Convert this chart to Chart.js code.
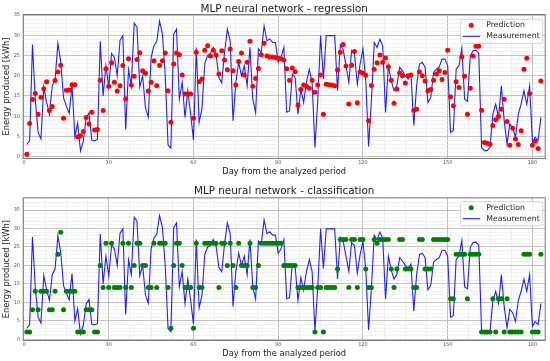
<!DOCTYPE html>
<html>
<head>
<meta charset="utf-8">
<script src="https://cdn.jsdelivr.net/npm/chart.js@4.4.1/dist/chart.umd.min.js"></script>
<style>
  html, body { margin: 0; padding: 0; background: #ffffff; }
  #wrap { position: relative; width: 550px; height: 361px; }
  canvas { position: absolute; left: 0; }
</style>
</head>
<body>
<div id="wrap">
  <canvas id="regChart" width="550" height="180" style="top:0"></canvas>
  <canvas id="clsChart" width="550" height="181" style="top:180px"></canvas>
</div>
<script>
// measured daily energy, days 1..183
var measurement = [
  3.0, 4.0, 27.7, 14.0, 6.0, 4.4, 17.2, 13.5, 10.5, 17.5,
  19.0, 28.0, 23.5, 14.5, 12.5, 10.7, 17.8, 5.0, 8.3, 1.4,
  3.8, 9.6, 10.8, 4.1, 3.9, 4.3, 28.5, 15.0, 22.5, 17.2,
  25.5, 24.5, 20.0, 28.7, 29.9, 6.7, 21.5, 17.5, 33.0, 32.0,
  17.2, 20.0, 12.0, 9.8, 24.5, 27.4, 28.5, 33.5, 30.3, 20.0,
  2.9, 2.1, 30.3, 31.5, 14.2, 18.4, 9.7, 16.3, 10.5, 4.1,
  27.0, 8.5, 11.8, 23.0, 25.0, 25.5, 27.0, 25.3, 19.5, 18.3,
  25.8, 31.5, 28.6, 8.9, 18.4, 23.3, 20.0, 22.5, 17.5, 27.0,
  14.2, 10.9, 26.6, 25.8, 32.3, 28.6, 29.1, 28.2, 28.2, 23.3,
  24.5, 27.0, 11.0, 11.3, 20.4, 19.6, 10.5, 16.7, 13.4, 18.4,
  21.6, 18.4, 2.3, 14.0, 29.9, 19.2, 29.9, 29.9, 29.9, 29.9,
  16.3, 27.6, 26.5, 22.5, 18.4, 26.2, 25.3, 17.9, 22.9, 26.6,
  18.8, 2.5, 14.0, 28.2, 27.0, 29.0, 27.4, 10.9, 22.5, 18.8,
  16.3, 17.5, 22.1, 21.2, 20.0, 19.2, 20.4, 7.7, 17.5, 22.9,
  23.3, 22.1, 13.4, 14.6, 20.8, 21.6, 22.1, 24.1, 24.1, 22.5,
  6.0, 6.4, 21.6, 22.5, 26.8, 14.2, 13.7, 24.9, 26.2, 26.3,
  25.5, 2.3, 1.5, 1.5, 2.3, 10.5, 13.0, 9.7, 17.5, 8.9,
  3.1, 8.1, 7.2, 4.8, 10.5, 13.0, 16.3, 13.0, 17.5, 3.5,
  4.8, 4.0, 9.7
];

// MLP regression output
var regPrediction = [
  0.6, 8.2, 14.1, 15.6, 10.5, 14.7, 16.8, 18.5, 11.4, 12.4,
  18.8, 20.9, 22.6, 9.5, 16.4, 16.5, 17.8, 17.8, 4.9, 5.2,
  6.2, 9.7, 8.1, 11.0, 6.6, 6.7, 18.9, 11.4, 21.7, 17.4,
  23.2, 18.4, 16.2, 17.5, 22.5, 14.3, 24.2, 17.7, 19.9, 24.0,
  25.7, 21.2, 20.6, 16.2, 18.4, 23.7, 17.5, 22.5, 23.7, 25.6,
  16.3, 8.5, 22.9, 25.6, 25.2, 20.2, 15.5, 15.5, 15.5, 9.5,
  25.8, 18.5, 19.2, 26.3, 27.4, 24.9, 26.3, 25.1, 20.4, 26.2,
  23.9, 21.5, 26.6, 21.2, 17.7, 23.5, 25.6, 20.2, 23.3, 28.5,
  17.4, 19.3, 21.8, 25.2, 28.0, 24.9, 24.6, 24.6, 24.5, 24.3,
  24.2, 23.9, 21.7, 18.9, 21.9, 21.0, 12.8, 16.6, 17.7, 17.4,
  16.9, 18.9, 15.9, 17.7, 20.2, 10.5, 17.9, 17.8, 17.7, 17.5,
  21.4, 25.8, 27.7, 22.4, 13.0, 22.6, 26.0, 13.3, 20.9, 20.6,
  20.1, 8.9, 17.6, 21.6, 23.2, 25.1, 23.3, 24.4, 22.2, 18.9,
  13.2, 16.7, 20.7, 20.0, 18.2, 20.0, 20.2, 11.5, 11.7, 21.0,
  20.0, 18.7, 16.3, 16.6, 18.9, 20.4, 21.2, 19.1, 20.8, 26.3,
  14.8, 12.6, 18.5, 17.1, 24.7, 19.9, 10.5, 16.9, 24.9, 27.3,
  27.3, 11.5, 3.5, 3.3, 3.1, 7.7, 9.1, 10.0, 11.7, 14.2,
  8.7, 2.8, 7.0, 4.4, 3.0, 6.4, 21.6, 24.3, 15.6, 2.8,
  3.8, 2.0, 18.7
];

// MLP classification output (class centres)
var clsPrediction = [
  2, 2, 8, 13, 8, 13, 13, 13, 8, 8,
  13, 23, 29, 8, 13, 13, 13, 13, 2, 2,
  2, 8, 8, 8, 2, 2, 20, 14, 26, 14,
  26, 14, 14, 14, 26, 14, 26, 14, 20, 26,
  26, 20, 20, 14, 14, 26, 14, 26, 26, 26,
  14, 3, 20, 26, 26, 20, 14, 14, 14, 3,
  26, 14, 14, 26, 26, 26, 26, 26, 14, 26,
  26, 20, 26, 20, 14, 26, 20, 20, 20, 26,
  14, 14, 20, 26, 26, 26, 26, 26, 26, 26,
  26, 20, 20, 20, 20, 20, 14, 14, 14, 14,
  14, 14, 2, 14, 14, 2, 14, 14, 14, 14,
  19, 27, 27, 27, 14, 27, 27, 14, 27, 27,
  19, 14, 14, 27, 26, 27, 27, 27, 27, 19,
  14, 19, 27, 27, 19, 19, 19, 14, 14, 27,
  27, 19, 19, 19, 27, 27, 27, 27, 27, 27,
  11, 11, 23, 23, 23, 23, 11, 23, 23, 23,
  23, 2, 2, 2, 2, 11, 2, 11, 11, 2,
  11, 2, 2, 2, 2, 2, 23, 23, 23, 2,
  2, 2, 23
];

var days = measurement.map(function(_, i) { return i + 1; });

var FONT = "'DejaVu Sans', sans-serif";

function toPoints(values) {
  return values.map(function(v, i) { return { x: days[i], y: v }; });
}

// grey frame round the plot area
var frame = {
  id: 'frame',
  beforeDatasetsDraw: function(chart) {
    var a = chart.chartArea, ctx = chart.ctx;
    ctx.save();
    ctx.strokeStyle = '#7a7a7a';
    ctx.lineWidth = 1;
    ctx.strokeRect(a.left + 0.5, a.top + 0.5, a.right - a.left - 1, a.bottom - a.top - 1);
    ctx.restore();
  }
};

// matplotlib-like legend box in the upper right corner
var legendBox = {
  id: 'legendBox',
  afterDraw: function(chart, args, opts) {
    var ctx = chart.ctx;
    var x = opts.x, y = opts.y, w = 82, h = 24, r = 2;
    ctx.save();
    ctx.beginPath();
    ctx.moveTo(x + r, y);
    ctx.lineTo(x + w - r, y);
    ctx.arcTo(x + w, y, x + w, y + r, r);
    ctx.lineTo(x + w, y + h - r);
    ctx.arcTo(x + w, y + h, x + w - r, y + h, r);
    ctx.lineTo(x + r, y + h);
    ctx.arcTo(x, y + h, x, y + h - r, r);
    ctx.lineTo(x, y + r);
    ctx.arcTo(x, y, x + r, y, r);
    ctx.closePath();
    ctx.fillStyle = 'rgba(255,255,255,0.85)';
    ctx.fill();
    ctx.strokeStyle = '#cccccc';
    ctx.lineWidth = 0.8;
    ctx.stroke();

    ctx.beginPath();
    ctx.arc(x + 10.5, y + 6, 2.5, 0, Math.PI * 2);
    ctx.fillStyle = opts.dotColor;
    ctx.fill();

    ctx.beginPath();
    ctx.moveTo(x + 2, y + 17);
    ctx.lineTo(x + 19.5, y + 17);
    ctx.strokeStyle = '#2020ff';
    ctx.lineWidth = 1.1;
    ctx.stroke();

    ctx.fillStyle = '#262626';
    ctx.font = '7.8px ' + FONT;
    ctx.textBaseline = 'middle';
    ctx.fillText('Prediction', x + 25.5, y + 6);
    ctx.fillText('Measurement', x + 25.5, y + 17);
    ctx.restore();
  }
};

function makeChart(id, title, pred, predColor, cfg) {
  return new Chart(document.getElementById(id), {
    type: 'scatter',
    data: {
      datasets: [
        {
          label: 'Prediction',
          data: toPoints(pred),
          showLine: false,
          pointRadius: 2.5,
          pointBorderWidth: 0,
          backgroundColor: predColor,
          borderColor: predColor
        },
        {
          label: 'Measurement',
          data: toPoints(measurement),
          showLine: true,
          pointRadius: 0,
          borderWidth: 1.1,
          borderColor: '#2020ff',
          tension: 0
        }
      ]
    },
    options: {
      responsive: false,
      animation: false,
      events: [],
      layout: { padding: { left: 0, right: 4.3, top: 0, bottom: 0 } },
      plugins: {
        legend: { display: false },
        tooltip: { enabled: false },
        title: {
          display: true,
          text: title,
          fullSize: false,
          color: '#1a1a1a',
          font: { family: FONT, size: 10.4, weight: 'normal', lineHeight: 1 },
          padding: cfg.titlePad
        },
        legendBox: { x: 460.7, y: cfg.legendY, dotColor: predColor }
      },
      scales: {
        x: {
          type: 'linear',
          min: -0.46,
          max: 184.7,
          afterFit: function(s) { s.height = cfg.xHeight; },
          ticks: {
            stepSize: 7.5,
            autoSkip: false,
            includeBounds: false,
            maxRotation: 0,
            padding: 1,
            color: '#555555',
            font: { family: FONT, size: 5 },
            callback: function(v) { return v % 30 === 0 ? String(v) : ''; }
          },
          grid: {
            drawTicks: false,
            color: function(c) { return c.tick && c.tick.value % 30 === 0 ? '#b4b4b4' : '#e4e4e4'; },
            lineWidth: function(c) { return c.tick && c.tick.value % 30 === 0 ? 0.9 : 0.6; }
          },
          border: { display: false },
          title: {
            display: true,
            text: 'Day from the analyzed period',
            color: '#1a1a1a',
            font: { family: FONT, size: 8.3 },
            padding: { top: 0, bottom: cfg.xTitlePad }
          }
        },
        y: {
          type: 'linear',
          min: cfg.yMin,
          max: cfg.yMax,
          afterFit: function(s) { s.width = 22.7; },
          ticks: {
            stepSize: 1,
            autoSkip: false,
            includeBounds: false,
            padding: 2.7,
            color: '#555555',
            font: { family: FONT, size: 5 },
            callback: function(v) { return v % 5 === 0 ? String(v) : ''; }
          },
          grid: {
            drawTicks: false,
            color: function(c) { return c.tick && c.tick.value % 5 === 0 ? '#bcbcbc' : '#e8e8e8'; },
            lineWidth: function(c) { return c.tick && c.tick.value % 5 === 0 ? 0.9 : 0.6; }
          },
          border: { display: false },
          title: {
            display: true,
            text: 'Energy produced [kWh]',
            color: '#1a1a1a',
            font: { family: FONT, size: 8.3 },
            padding: { top: 2, bottom: 0 }
          }
        }
      }
    },
    plugins: [frame, legendBox]
  });
}

makeChart('regChart', 'MLP neural network - regression', regPrediction, '#ff0000', {
  yMin: -0.57, yMax: 35.25, xHeight: 21, xTitlePad: 3.3,
  titlePad: { top: 3.6, bottom: 0 }, legendY: 19.3
});

makeChart('clsChart', 'MLP neural network - classification', clsPrediction, '#008000', {
  yMin: -0.46, yMax: 38.44, xHeight: 20, xTitlePad: 2,
  titlePad: { top: 6.2, bottom: 0.7 }, legendY: 21.7
});
</script>
</body>
</html>
